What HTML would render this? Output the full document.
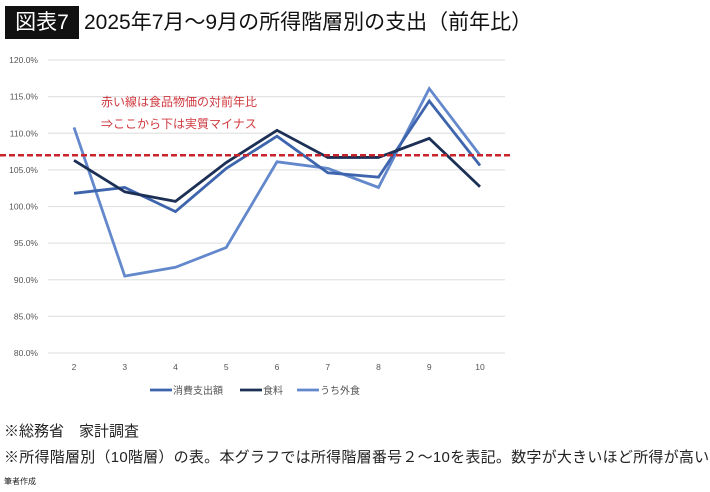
<!DOCTYPE html>
<html><head><meta charset="utf-8"><style>
body{margin:0;width:710px;height:492px;background:#fff;font-family:"Liberation Sans","Noto Sans CJK JP",sans-serif;overflow:hidden;position:relative}
.t{position:absolute;white-space:nowrap}
</style></head><body>
<div class="t" style="left:5px;top:6px;width:74px;height:33px;background:#111;color:#fff;font-size:21px;line-height:33px;text-align:center">図表7</div>
<div class="t" style="left:84px;top:7px;font-size:21px;line-height:31px;color:#111">2025年7月～9月の所得階層別の支出（前年比）</div>
<svg id="c" width="710" height="400" style="position:absolute;left:0;top:0"></svg>
<div class="t" style="left:4px;top:420px;font-size:15px;color:#222">※総務省　家計調査</div>
<div class="t" style="left:4px;top:446px;font-size:15px;letter-spacing:0.25px;color:#222">※所得階層別（10階層）の表。本グラフでは所得階層番号２～10を表記。数字が大きいほど所得が高い</div>
<div class="t" style="left:4px;top:476px;font-size:8px;color:#222">筆者作成</div>
<script>
const categories=["2","3","4","5","6","7","8","9","10"];
const seriesNames=["消費支出額","食料","うち外食"];
const spending=[101.8,102.6,99.3,105.2,109.6,104.6,104.0,114.4,105.6];
const food=[106.3,102.0,100.7,106.0,110.4,106.7,106.7,109.3,102.7];
const diningOut=[110.8,90.5,91.7,94.4,106.1,105.2,102.6,116.1,107.0];
const yTicks=[80,85,90,95,100,105,110,115,120];
const foodPriceYoY=107.0;
const colors=["#3d64ad","#1c2f55","#6388cc"];
const svg=document.getElementById('c');const NS="http://www.w3.org/2000/svg";
const y=v=>353-(v-80)*(293/40);
const x=i=>74+i*50.75;
function mk(t,a,p){const e=document.createElementNS(NS,t);for(const k in a)e.setAttribute(k,a[k]);(p||svg).appendChild(e);return e;}
yTicks.forEach(v=>{
 const g=mk('line',{x1:48,x2:505,y1:y(v),y2:y(v),stroke:'#e3e3e3','stroke-width':1.3});
 
 
 const t=mk('text',{x:38,y:y(v)+3,'text-anchor':'end','font-size':8.5,fill:'#555'});t.textContent=v.toFixed(1)+'%';
 
 
});
categories.forEach((c,i)=>{const t=mk('text',{x:x(i),y:370,'text-anchor':'middle','font-size':8.5,fill:'#555'});t.textContent=c;
 
 });
[diningOut,spending,food].forEach((s,k)=>{
 const ci=[2,0,1][k];
 const p=mk('polyline',{points:s.map((v,i)=>x(i)+','+y(v)).join(' '),fill:'none',stroke:colors[ci],'stroke-width':2.8,'stroke-linejoin':'miter'});
 
 
});
const r=mk('line',{x1:0,x2:511,y1:y(foodPriceYoY),y2:y(foodPriceYoY),stroke:'#c8242b','stroke-width':2.5,'stroke-dasharray':'6 3'});


[['赤い線は食品物価の対前年比',106],['⇒ここから下は実質マイナス',128]].forEach(a=>{const t=mk('text',{x:101,y:a[1],'font-size':12,fill:'#d0393f'});t.textContent=a[0];
 
 });
const lx=[150,240,297];
seriesNames.forEach((n,i)=>{
 const l=mk('line',{x1:lx[i],x2:lx[i]+22,y1:390,y2:390,stroke:colors[i],'stroke-width':2.8});
 
 
 const t=mk('text',{x:lx[i]+23,y:394,'font-size':10,fill:'#555'});t.textContent=n;
 
 
});
</script>
</body></html>
